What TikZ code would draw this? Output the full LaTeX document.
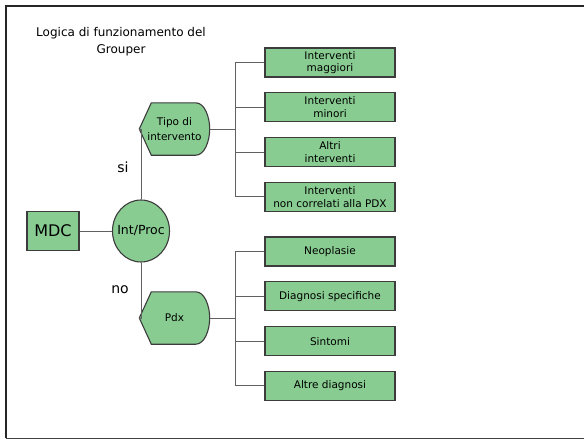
\documentclass[tikz,border=0pt]{standalone}
\usepackage{fontspec}
\setmainfont{DejaVu Sans}
\usetikzlibrary{shapes.geometric, positioning, backgrounds}

\definecolor{grpgreen}{RGB}{136,204,145}
\definecolor{grpline}{RGB}{60,60,60}

% 左尖右圆的判断框 (以节点锚点为准)
\newcommand{\dispshape}[1]{%
  \draw[dispframe] (#1.west) -- ([xshift=12pt]#1.north west)
    -- ([xshift=-14pt]#1.north east)
    .. controls ([xshift=-5pt]#1.north east) and ([yshift=12pt]#1.east) .. (#1.east)
    .. controls ([yshift=-12pt]#1.east) and ([xshift=-5pt]#1.south east) .. ([xshift=-14pt]#1.south east)
    -- ([xshift=12pt]#1.south west) -- cycle;}

\begin{document}
\begin{tikzpicture}[
        x=1pt, y=-1pt,
        node distance=14.7pt and 0pt,
        % 定义通用节点样式
        box/.style={
            rectangle,
            draw=grpline,        % 边框颜色
            fill=grpgreen,       % 填充绿色
            line width=1.1pt,
            minimum width=130pt, % 统一宽度
            minimum height=29pt, % 统一高度
            inner sep=1pt,
            align=center,
            font=\fontsize{10.5}{12.5}\selectfont
        },
        dispbox/.style={
            rectangle,
            minimum width=70pt,
            minimum height=52pt,
            inner sep=0pt,
            align=center,
            font=\fontsize{10.5}{15}\selectfont
        },
        dispframe/.style={
            draw=grpline, fill=grpgreen, line width=1.1pt
        },
        % 定义连线样式
        link/.style={
            draw=black!62,
            line width=1pt
        },
        frame/.style={
            draw=black!85,
            line width=1.6pt
        }
    ]

    \useasboundingbox (0,0) rectangle (584,439);

    % ================= 外框 =================
    \draw[frame] (6,438) -- (6,6) -- (584,6);
    \draw[draw=black!75, line width=0.8pt] (6,438) -- (584,438);

    % ================= 定义节点 =================
    % 1. 标题
    \node[align=center, font=\fontsize{12}{17}\selectfont] (title) at (121,42)
        {Logica di funzionamento del\\Grouper};

    % 2. 起点与判断
    \node[box, minimum width=52pt, minimum height=39pt, font=\fontsize{16}{18}\selectfont]
        (mdc) at (53,231) {MDC};
    \node[ellipse, draw=grpline, fill=grpgreen, line width=1.1pt,
          minimum width=57pt, minimum height=62pt, inner sep=0pt,
          label={[font=\fontsize{12.5}{14}\selectfont]center:Int/Proc}] (intproc) at (141,231) {};

    \node[dispbox] (tipo) at (174.5,129) {Tipo di\\intervento};
    \node[dispbox] (pdx) at (174.5,318) {Pdx};
    \begin{scope}[on background layer]
        \dispshape{tipo}
        \dispshape{pdx}
    \end{scope}

    \node[font=\fontsize{14}{16}\selectfont] (si) at (123,167) {si};
    \node[font=\fontsize{14}{16}\selectfont] (no) at (120,290) {no};

    % 3. 右侧分类 (上: 手术, 下: 诊断)
    \node[box] (magg) at (330,62.5) {Interventi\\maggiori};
    \node[box, below=of magg] (min) {Interventi\\minori};
    \node[box, below=of min] (altri) {Altri\\interventi};
    \node[box, below=of altri] (noncorr) {Interventi\\non correlati alla PDX};

    \node[box] (neo) at (330,251.5) {Neoplasie};
    \node[box, below=of neo] (spec) {Diagnosi specifiche};
    \node[box, below=of spec] (sint) {Sintomi};
    \node[box, below=of sint] (altrediag) {Altre diagnosi};

    \coordinate (hubA) at (235,129);
    \coordinate (hubB) at (235,318);

    % ================= 绘制连线 =================
    \draw[link] (mdc) -- (intproc);
    \draw[link] (intproc.north) |- (tipo.west);
    \draw[link] (intproc.south) |- (pdx.west);
    \draw[link] (tipo.east) -- (hubA);
    \draw[link] (pdx.east) -- (hubB);
    \foreach \n in {magg, min, altri, noncorr}
        \draw[link] (hubA) |- (\n.west);
    \foreach \n in {neo, spec, sint, altrediag}
        \draw[link] (hubB) |- (\n.west);

\end{tikzpicture}
\end{document}
